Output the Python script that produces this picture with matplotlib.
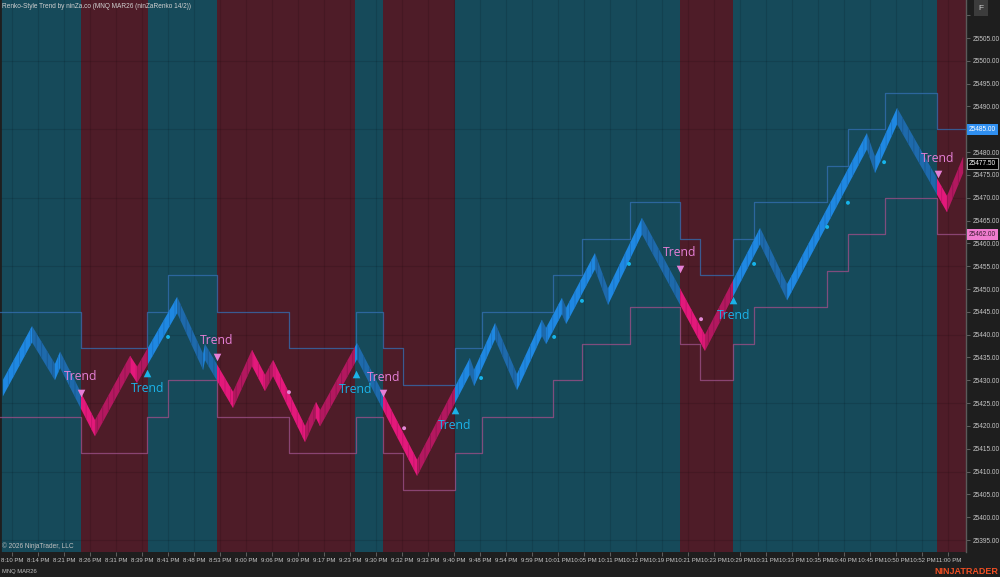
import matplotlib
matplotlib.use("Agg")
import matplotlib.pyplot as plt
from matplotlib.patches import Rectangle
import matplotlib.transforms as mtransforms

plt.rcParams['font.family'] = ['Liberation Sans', 'DejaVu Sans']
plt.rcParams['hatch.linewidth'] = 0.6

# x axis: one time label per slot
time_labels = ["8:10 PM", "8:14 PM", "8:21 PM", "8:26 PM", "8:31 PM", "8:39 PM", "8:41 PM",
               "8:48 PM", "8:53 PM", "9:00 PM", "9:06 PM", "9:09 PM", "9:17 PM", "9:23 PM",
               "9:30 PM", "9:32 PM", "9:33 PM", "9:40 PM", "9:48 PM", "9:54 PM", "9:59 PM",
               "10:01 PM", "10:05 PM", "10:11 PM", "10:12 PM", "10:19 PM", "10:21 PM",
               "10:23 PM", "10:29 PM", "10:31 PM", "10:33 PM", "10:35 PM", "10:40 PM",
               "10:45 PM", "10:50 PM", "10:52 PM", "11:00 PM"]
x_first, x_last = -0.473, 36.68

# renko path, pivots (slot position, mid price of the brick band)
pivot_x = [-0.36, 0.76, 1.64, 1.84, 3.18, 4.53, 4.80, 6.34, 7.34, 7.41, 8.49, 9.22, 9.72,
           10.03, 11.26, 11.68, 11.84, 13.26, 15.57, 17.60, 17.76, 18.57, 19.41, 20.37,
           20.53, 21.14, 21.30, 22.41, 22.91, 24.22, 26.64, 28.76, 29.80, 32.87, 33.18,
           34.03, 35.95, 36.57]
pivot_p = [25428.3, 25440.1, 25431.8, 25434.5, 25419.5, 25433.6, 25431.2, 25446.5, 25434.0,
           25436.2, 25425.7, 25434.9, 25429.4, 25432.7, 25418.2, 25423.5, 25421.7, 25436.4,
           25410.8, 25433.1, 25430.5, 25440.8, 25429.6, 25441.5, 25439.7, 25446.3, 25444.1,
           25456.1, 25448.3, 25463.8, 25438.2, 25461.6, 25449.3, 25482.4, 25477.2, 25487.9,
           25468.6, 25477.2]
brick = 3.6
last_price = 25477.50

# trend regions (start slot, direction)
trend_start = [-0.473, 2.64, 5.22, 7.87, 13.18, 14.26, 17.03, 25.68, 27.72, 35.57]
trend_dir = [1, -1, 1, -1, 1, -1, 1, -1, 1, -1]

# channel step lines
step_x = [-0.473, 2.64, 5.18, 5.99, 7.87, 10.64, 13.22, 14.26, 15.03, 17.03, 18.07, 20.80,
          21.91, 23.76, 25.68, 26.45, 27.72, 28.53, 31.34, 32.14, 33.57, 35.57]
upper = [25445, 25437, 25445, 25453, 25445, 25437, 25445, 25437, 25429, 25437, 25445, 25453,
         25461, 25469, 25461, 25453, 25461, 25469, 25477, 25485, 25493, 25485]
lower = [25422, 25414, 25422, 25430, 25422, 25414, 25422, 25414, 25406, 25414, 25422, 25430,
         25438, 25446, 25438, 25430, 25438, 25446, 25454, 25462, 25470, 25462]

# small dots
dot_x = [5.99, 10.64, 15.07, 18.03, 20.84, 21.91, 23.72, 26.49, 28.53, 31.34, 32.14, 33.53]
dot_p = [25439.5, 25427.4, 25419.5, 25430.5, 25439.5, 25447.4, 25455.5, 25443.4, 25455.5,
         25463.6, 25468.9, 25477.8]
dot_dir = [1, -1, -1, 1, 1, 1, 1, -1, 1, 1, 1, 1]

# trend signals
sig_x = [2.64, 5.19, 7.86, 13.22, 14.27, 17.03, 25.68, 27.73, 35.59]
sig_p = [25427.3, 25431.5, 25435.2, 25431.3, 25427.2, 25423.5, 25454.4, 25447.6, 25475.2]
sig_dir = [-1, 1, -1, 1, -1, 1, -1, 1, -1]

y_ticks = list(range(25395, 25515, 5))
grid_y = list(range(25395, 25510, 15))

# colours
bg_up, bg_dn = '#164a5a', '#4e1c28'
band_cols = {(1, 1): '#1f88e2', (1, -1): '#1e6aac', (-1, -1): '#e3197b', (-1, 1): '#b3185f'}
streak_cols = {(1, 1): '#1a72c0', (1, -1): '#19588f', (-1, -1): '#c2136a', (-1, 1): '#921450'}
sig_cols = {1: '#1cb2e8', -1: '#e57fd6'}
dot_cols = {1: '#16b4ea', -1: '#e48ad8'}

fig = plt.figure(figsize=(10, 5.77), dpi=100, facecolor='#1e1e1e')
ax = fig.add_axes([0, 25 / 577, 0.966, 552 / 577])
ax.set_facecolor(bg_up)
ax.set_xlim(x_first, x_last)
ax.set_ylim(25392.38, 25513.33)

# background trend spans
spans = []
for i, s in enumerate(trend_start):
    e = trend_start[i + 1] if i + 1 < len(trend_start) else x_last
    spans.append((s, e, trend_dir[i]))
    ax.axvspan(s, e, color=bg_up if trend_dir[i] == 1 else bg_dn, lw=0, zorder=0)

for k in range(len(time_labels)):
    ax.axvline(k, color='black', alpha=0.11, lw=0.8, zorder=1)
for v in grid_y:
    ax.axhline(v, color='black', alpha=0.11, lw=0.8, zorder=1)
ax.axvline(x_first, color='#1e1e1e', lw=2, zorder=1)

# channel lines
ax.step(step_x + [x_last], upper + [upper[-1]], where='post', color='#3470b5', lw=0.9,
        alpha=0.75, zorder=2)
ax.step(step_x + [x_last], lower + [lower[-1]], where='post', color='#9a4f86', lw=0.9,
        alpha=0.8, zorder=2)

# renko brick band
ylo, yhi = ax.get_ylim()
for i in range(len(pivot_x) - 1):
    x0, x1 = pivot_x[i], pivot_x[i + 1]
    p0, p1 = pivot_p[i], pivot_p[i + 1]
    leg = 1 if p1 > p0 else -1
    for s, e, d in spans:
        if e <= x0 or s >= x1:
            continue
        poly = ax.fill_between([x0, x1], [p0 - brick / 2, p1 - brick / 2],
                               [p0 + brick / 2, p1 + brick / 2],
                               facecolor=band_cols[(d, leg)], edgecolor=streak_cols[(d, leg)],
                               hatch='|||', lw=0, zorder=3)
        clip = Rectangle((s, ylo), e - s, yhi - ylo, transform=ax.transData)
        poly.set_clip_path(clip)

# dots
ax.scatter(dot_x, dot_p, s=8, c=[dot_cols[d] for d in dot_dir], lw=0, zorder=4)

# signals
for x, p, d in zip(sig_x, sig_p, sig_dir):
    ax.scatter([x], [p], marker='^' if d == 1 else 'v', s=30, color=sig_cols[d], lw=0, zorder=5)
    ax.annotate('Trend', (x, p), xytext=(0, -11 if d == 1 else 11.5), textcoords='offset points',
                ha='center', va='center', fontsize=8.8, color=sig_cols[d],
                family=['Open Sans', 'DejaVu Sans'], zorder=6)

# axes styling
for side in ['top', 'bottom', 'left']:
    ax.spines[side].set_visible(False)
ax.spines['right'].set_color('#5a5a5a')
ax.spines['right'].set_linewidth(1)
ax.yaxis.tick_right()
ax.set_yticks(y_ticks)
# labels hidden where the scale markers sit on top of them
ax.set_yticklabels(["" if v in (upper[-1], 25510) else f"{v:.2f}" for v in y_ticks])
ax.set_xticks(range(len(time_labels)))
ax.set_xticklabels(time_labels)
ax.tick_params(axis='both', colors='#c8c8c8', length=3, width=0.6, pad=1.5)
ax.tick_params(axis='y', labelsize=4.7)
ax.tick_params(axis='x', labelsize=4.3)
ax.tick_params(axis='both', color='#6a6a6a')

# price markers on the right scale
trans = mtransforms.blended_transform_factory(ax.transAxes, ax.transData)
ax.text(1.003, upper[-1], f"{upper[-1]:.2f}", transform=trans, fontsize=4.7, color='white',
        va='center', ha='left', zorder=10, clip_on=False,
        bbox=dict(boxstyle='square,pad=0.3', fc='#2f8ff0', ec='none'))
ax.text(1.003, last_price, f"{last_price:.2f}", transform=trans, fontsize=4.7, color='white',
        va='center', ha='left', zorder=10, clip_on=False,
        bbox=dict(boxstyle='square,pad=0.3', fc='black', ec='#bbbbbb', lw=0.6))
ax.text(1.003, lower[-1], f"{lower[-1]:.2f}", transform=trans, fontsize=4.7, color='#3a1a30',
        va='center', ha='left', zorder=10, clip_on=False,
        bbox=dict(boxstyle='square,pad=0.3', fc='#f07ccf', ec='none'))

# text around the chart
fig.text(0.002, 1 - 6 / 577, "Renko-Style Trend by ninZa.co (MNQ MAR26 (ninZaRenko 14/2))",
         fontsize=4.7, color='#d0d0d0', va='center', ha='left')
fig.text(0.002, 1 - 546 / 577, "\u00a9 2026 NinjaTrader, LLC", fontsize=4.7, color='#c0c0c0',
         va='center', ha='left')
fig.text(0.002, 1 - 571 / 577, "MNQ MAR26", fontsize=4.2, color='#c0c0c0', va='center', ha='left')
fig.text(0.998, 1 - 571 / 577, "NINJATRADER", fontsize=6.5, fontweight='bold', color='#f04e23',
         va='center', ha='right')
fig.text(0.981, 1 - 8 / 577, "F", fontsize=6, color='#d0d0d0', va='center', ha='center',
         bbox=dict(boxstyle='square,pad=0.5', fc='#3c3c3c', ec='none'))

fig.savefig("out.png", dpi=100, facecolor=fig.get_facecolor())
